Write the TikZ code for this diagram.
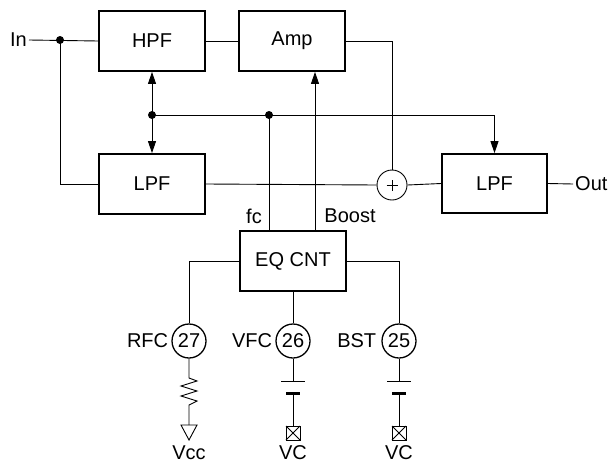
\documentclass[tikz,border=0pt]{standalone}
\usepackage{fontspec}
\setmainfont{Liberation Sans}
\usetikzlibrary{arrows.meta}

\begin{document}
\begin{tikzpicture}[x=1pt,y=-1pt,>={Triangle[length=12pt,width=8pt]},
    font=\fontsize{20}{24}\selectfont,
    wire/.style={line width=0.9pt},
    blk/.style={draw,line width=1.8pt,minimum width=106pt,minimum height=60pt,inner sep=0pt},
    pin/.style={draw,circle,line width=1.3pt,minimum size=34pt,inner sep=0pt},
    lbl/.style={inner sep=2pt}]

  \useasboundingbox (0,0) rectangle (612,463);

  \begin{scope}   % signal path

    \node[blk] (hpf) at (152,41) {HPF};
    \node[blk] (amp) at (292,41) {Amp};
    \node[blk] (lpfa) at (152,184) {LPF};
    \node[blk,minimum width=105pt,minimum height=59pt] (lpfb) at (494.5,183.5) {LPF};
    \node[draw,circle,line width=0.9pt,minimum size=30pt,inner sep=0pt] (sum) at (392,185) {};
    \draw[wire] ([xshift=-5.5pt]sum.center) -- ([xshift=5.5pt]sum.center);
    \draw[wire] ([yshift=-5.5pt]sum.center) -- ([yshift=5.5pt]sum.center);

    \node[lbl,anchor=east] (in) at (29,40) {In};
    \node[lbl,anchor=west] (out) at (573,184) {Out};

    \coordinate (split) at (60,40);
    \fill (split) circle (4);

    \draw[wire] (in.east) -- (hpf.west);
    \draw[wire] (split) |- (lpfa.west);
    \draw[wire] (hpf.east) -- (amp.west);
    \draw[wire] (amp.east) -| (sum.north);
    \draw[wire] (lpfa.east) -- (sum.west);
    \draw[wire] (sum.east) -- (lpfb.west);
    \draw[wire] (lpfb.east) -- (out.west);

  \end{scope}

  \begin{scope}   % control

    \node[blk] (eq) at (293,261) {EQ CNT};

    \coordinate (busl) at (152,115);
    \coordinate (busm) at (269,115);
    \coordinate (bst) at (315,0);
    \fill (busl) circle (4);
    \fill (busm) circle (4);

    \draw[wire,<->] (hpf.south) -- (lpfa.north);
    \draw[wire,->] (busl) -| (lpfb.north);
    \draw[wire] (busm) -- (eq.north -| busm);
    \draw[wire,->] (eq.north -| bst) -- (amp.south -| bst);

    \node[lbl] (fc) at (254,216) {fc};
    \node[lbl] (boost) at (350,216) {Boost};

  \end{scope}

  \begin{scope}   % pins

    \node[pin] (p27) at (189,341) {27};
    \node[pin] (p26) at (293,341) {26};
    \node[pin] (p25) at (399,341) {25};

    \node[lbl,anchor=east] (rfc) at ([xshift=-1pt]p27.west) {RFC};
    \node[lbl,anchor=east] (vfc) at ([xshift=-1pt]p26.west) {VFC};
    \node[lbl,anchor=east] (bstl) at ([xshift=-3pt]p25.west) {BST};

    \draw[wire] (eq.west) -| (p27.north);
    \draw[wire] (eq.south) -- (p26.north);
    \draw[wire] (eq.east) -| (p25.north);

    % resistor to Vcc
    \draw[wire] (p27.south) -- (189,378)
      -- (197,381) -- (181,386) -- (197,391) -- (181,396) -- (197,401)
      -- (189,405) -- (189,425);
    \draw[wire] (181,425) -- (197,425) -- (189,440) -- cycle;
    \node[lbl] (vcc) at (189,453) {Vcc};

    % capacitors to VC
    \foreach \x/\p in {293/p26,399/p25}
    {
      \draw[wire] (\p.south) -- (\x,381);
      \draw[wire] (\x-12,381) -- (\x+12,381);
      \draw[line width=3pt] (\x-7,393) -- (\x+7,393);
      \draw[wire] (\x,393) -- (\x,426);
      \draw[wire] (\x-7,426) rectangle (\x+7,440);
      \draw[wire] (\x-7,426) -- (\x+7,440);
      \draw[wire] (\x+7,426) -- (\x-7,440);
      \node[lbl] at (\x,453) {VC};
    }

  \end{scope}

\end{tikzpicture}
\end{document}
